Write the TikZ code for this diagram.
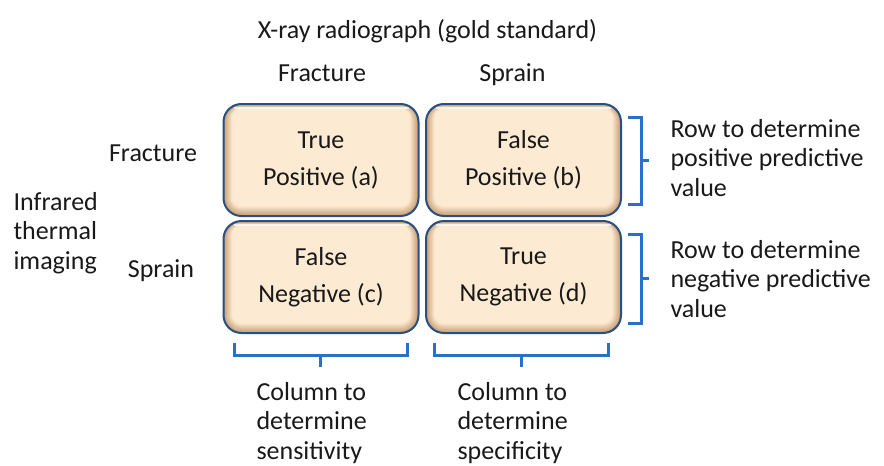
\documentclass[tikz,border=0pt]{standalone}
\usepackage{fontspec}
\setmainfont{Carlito}
\usepackage{xcolor}
\usetikzlibrary{positioning}
\definecolor{cellin}{RGB}{253,234,210}
\definecolor{cellshadow}{RGB}{200,158,116}
\definecolor{cellline}{RGB}{40,80,130}
\definecolor{bracketblue}{RGB}{42,112,200}
\definecolor{txt}{RGB}{25,25,25}

\begin{document}
\begin{tikzpicture}[x=1pt,y=-1pt,
	every node/.style={text=txt,font=\fontsize{26}{29.5}\selectfont},
	cell/.style={draw=cellline,line width=2pt,rounded corners=18pt,fill=cellshadow,minimum width=195pt,minimum height=112pt,align=center,font=\fontsize{26}{37}\selectfont,
		path picture={
			\foreach \k in {1,...,9}{
				\pgfmathsetmacro\mix{min(100,\k*12)}
				\fill[cellin!\mix!cellshadow,rounded corners=18pt-\k pt]
					([xshift=\k pt,yshift=-0.5*\k pt]path picture bounding box.north west) rectangle
					([xshift=-\k pt,yshift=1.1*\k pt]path picture bounding box.south east);
			}
			\draw[white,line width=1.5pt,rounded corners=14pt,opacity=0.7]
				([xshift=10pt,yshift=-4pt]path picture bounding box.north west) -- ([xshift=-10pt,yshift=-4pt]path picture bounding box.north east);
		}},
	brace/.style={draw=bracketblue,line width=3pt},
	note/.style={align=left,anchor=west}]
	\useasboundingbox (0,0) rectangle (884,466);
	% header and side labels
	\node[anchor=base] at (427.5,38) (title) {X-ray radiograph (gold standard)};
	\node[anchor=base] at (322,81) (colfrac) {Fracture};
	\node[anchor=base] at (512.5,81) (colsprain) {Sprain};
	\node[anchor=base] at (153,161) (rowfrac) {Fracture};
	\node[anchor=base] at (161,277) (rowsprain) {Sprain};
	\node[note] at (10,233) (infrared) {Infrared\\thermal\\imaging};
	% the four cells
	\node[cell] at (321,160) (tp) {True\\Positive (a)};
	\node[cell] at (523.5,160) (fp) {False\\Positive (b)};
	\node[cell] at (321,277) (fn) {False\\Negative (c)};
	\node[cell] at (523.5,277) (tn) {True\\Negative (d)};
	% brackets
	\draw[brace] (628,117) -- (641,117) -- (641,204) -- (628,204) (641,160) -- (649,160);
	\draw[brace] (628,234) -- (641,234) -- (641,323) -- (628,323) (641,278) -- (649,278);
	\draw[brace] (234,343) -- (234,355) -- (407,355) -- (407,343) (320,355) -- (320,367);
	\draw[brace] (434,343) -- (434,355) -- (608,355) -- (608,343) (521,355) -- (521,367);
	\node[note] at (667,158) (ppv) {Row to determine\\positive predictive\\value};
	\node[note] at (667,279) (npv) {Row to determine\\negative predictive\\value};
	\node[note] at (253,423) (sens) {Column to\\determine\\sensitivity};
	\node[note] at (454,423) (spec) {Column to\\determine\\specificity};
\end{tikzpicture}
\end{document}
